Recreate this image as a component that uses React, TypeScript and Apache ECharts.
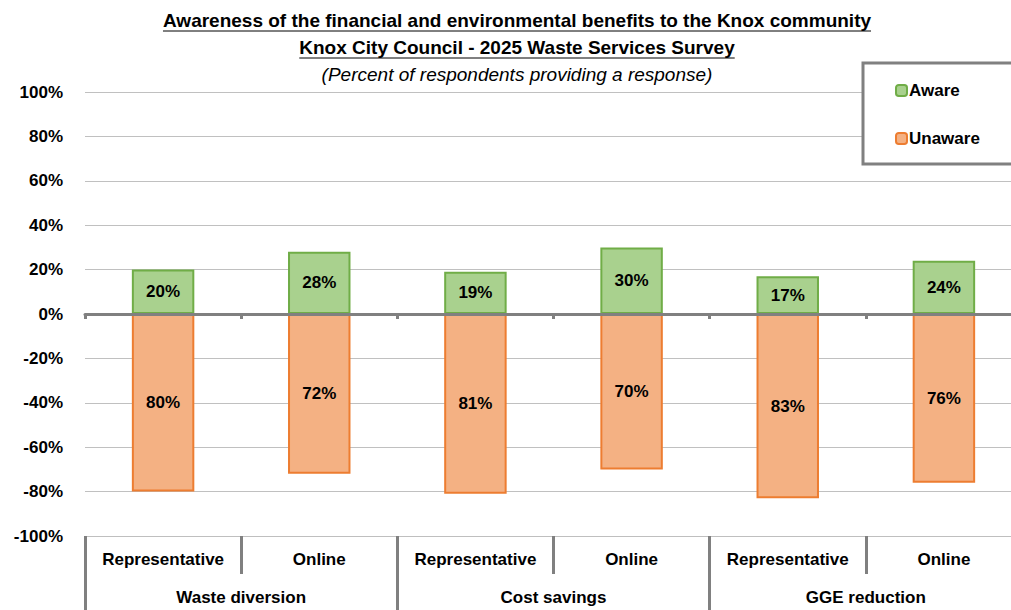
import React, { useEffect, useRef } from "react";
import * as echarts from "echarts";

const titleLines = [
  "Awareness of the financial and environmental benefits to the Knox community",
  "Knox City Council - 2025 Waste Services Survey",
];
const subtitle = "(Percent of respondents providing a response)";
const respondentTypes = ["Representative", "Online", "Representative", "Online", "Representative", "Online"];
const groups = ["Waste diversion", "Cost savings", "GGE reduction"];
const aware = [20, 28, 19, 30, 17, 24];
const unaware = [80, 72, 81, 70, 83, 76];
const yTicks = [-100, -80, -60, -40, -20, 0, 20, 40, 60, 80, 100];

const FONT = "'Liberation Sans', Arial, sans-serif";

function measure(text: string, font: string): number {
  const c = document.createElement("canvas").getContext("2d");
  if (!c) return text.length * 9;
  c.font = font;
  return c.measureText(text).width;
}

export default function App() {
  const ref = useRef<HTMLDivElement>(null);
  useEffect(() => {
    if (!ref.current) return;
    const chart = echarts.init(ref.current, undefined, { renderer: "svg" });
    const cx = 517;
    const titleFont = `bold 19px ${FONT}`;
    const graphics: any[] = [];
    const ys = [20, 47];
    titleLines.forEach((t, i) => {
      const w = measure(t, titleFont);
      graphics.push({
        type: "text",
        x: cx,
        y: ys[i],
        style: { text: t, font: titleFont, fill: "#000", align: "center", verticalAlign: "middle" },
      });
      graphics.push({
        type: "line",
        shape: { x1: cx - w / 2, y1: ys[i] + 11, x2: cx + w / 2, y2: ys[i] + 11 },
        style: { stroke: "#000", lineWidth: 1 },
      });
    });
    graphics.push({
      type: "text",
      x: cx,
      y: 74,
      style: { text: subtitle, font: `italic 19px ${FONT}`, fill: "#000", align: "center", verticalAlign: "middle" },
    });

    const lbl = { fontFamily: FONT, fontWeight: "bold", fontSize: 17, color: "#000" };

    chart.setOption({
      animation: false,
      backgroundColor: "#fff",
      graphic: graphics,
      legend: {
        orient: "vertical",
        left: 863,
        top: 63,
        padding: [19, 34, 17, 32],
        itemGap: 31,
        itemWidth: 11,
        itemHeight: 11,
        borderColor: "#808080",
        borderWidth: 3,
        backgroundColor: "#fff",
        selectedMode: false,
        textStyle: { ...lbl, padding: [0, 0, 0, -3] },
        data: ["Aware", "Unaware"],
      },
      grid: { left: 85, top: 92, right: 8, bottom: 74, containLabel: false },
      yAxis: {
        type: "value",
        min: -100,
        max: 100,
        interval: 20,
        axisLine: { show: false },
        axisTick: { show: false },
        splitLine: { lineStyle: { color: "#c0c0c0", width: 1 } },
        axisLabel: {
          ...lbl,
          margin: 22,
          formatter: (v: number) => (yTicks.includes(v) ? `${v}%` : ""),
        },
      },
      xAxis: [
        {
          type: "category",
          data: respondentTypes,
          position: "bottom",
          axisLine: { onZero: true, lineStyle: { color: "#808080", width: 3 } },
          axisTick: { show: true, alignWithLabel: false, length: 5, lineStyle: { color: "#808080", width: 3 } },
          axisLabel: { show: false },
          z: 5,
        },
        {
          type: "category",
          data: respondentTypes,
          position: "bottom",
          axisLine: { onZero: false, lineStyle: { color: "#bfbfbf", width: 1 } },
          axisTick: { show: true, length: 38, lineStyle: { color: "#808080", width: 3 } },
          axisLabel: { ...lbl, margin: 15, interval: 0 },
        },
        {
          type: "category",
          data: groups,
          position: "bottom",
          axisLine: { show: false, onZero: false },
          axisTick: { show: true, length: 90, lineStyle: { color: "#808080", width: 3 } },
          axisLabel: { ...lbl, margin: 53, interval: 0 },
        },
      ],
      series: [
        {
          name: "Aware",
          type: "bar",
          stack: "s",
          xAxisIndex: 0,
          barWidth: "40%",
          data: aware,
          itemStyle: { color: "#a9d18e", borderColor: "#70ad47", borderWidth: 2 },
          label: { show: true, position: "inside", ...lbl, formatter: (p: any) => `${Math.abs(p.value)}%` },
        },
        {
          name: "Unaware",
          type: "bar",
          stack: "s",
          xAxisIndex: 0,
          barWidth: "40%",
          data: unaware.map((v) => -v),
          itemStyle: { color: "#f4b183", borderColor: "#ed7d31", borderWidth: 2 },
          label: { show: true, position: "inside", ...lbl, formatter: (p: any) => `${Math.abs(p.value)}%` },
        },
      ],
    });
    return () => chart.dispose();
  }, []);
  return (
    <div style={{ position: "fixed", left: 0, top: 0, width: 1011, height: 610, overflow: "hidden" }}>
      <div ref={ref} style={{ position: "absolute", left: 0, top: 0, width: 1030, height: 610 }} />
    </div>
  );
}
